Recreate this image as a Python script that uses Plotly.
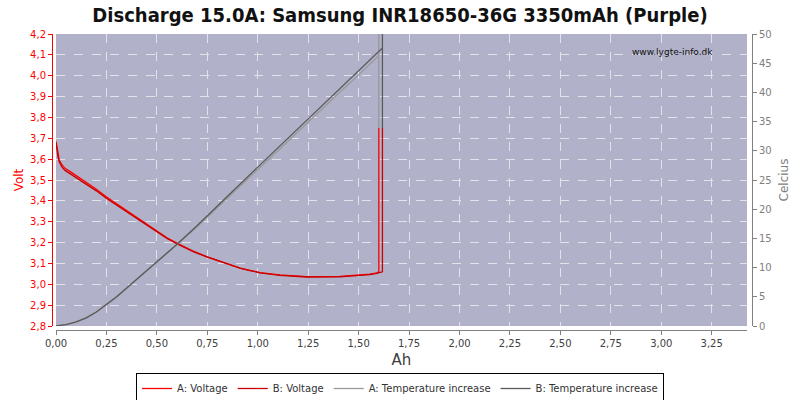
import plotly.graph_objects as go

# ---- data ----
ah_va = [0.0, 0.005, 0.01, 0.016, 0.03, 0.045, 0.08, 0.135, 0.2, 0.251, 0.3, 0.383, 0.45, 0.5,
         0.55, 0.606, 0.68, 0.747, 0.846, 0.912, 0.961, 1.011, 1.11, 1.242, 1.407, 1.49, 1.556,
         1.59, 1.600, 1.600]
volt_a = [3.685, 3.65, 3.62, 3.596, 3.572, 3.556, 3.534, 3.499, 3.456, 3.418, 3.386, 3.329,
          3.286, 3.254, 3.223, 3.194, 3.159, 3.133, 3.098, 3.078, 3.067, 3.056, 3.045, 3.037,
          3.038, 3.044, 3.049, 3.055, 3.06, 3.75]
ah_vb = [0.0, 0.005, 0.01, 0.016, 0.03, 0.045, 0.08, 0.135, 0.2, 0.251, 0.3, 0.383, 0.45, 0.5,
         0.55, 0.606, 0.68, 0.747, 0.846, 0.912, 0.961, 1.011, 1.11, 1.242, 1.407, 1.49, 1.556,
         1.59, 1.618, 1.618]
volt_b = [3.68, 3.64, 3.61, 3.588, 3.562, 3.546, 3.524, 3.49, 3.448, 3.411, 3.38, 3.324,
          3.282, 3.25, 3.22, 3.191, 3.157, 3.131, 3.097, 3.077, 3.066, 3.055, 3.043, 3.035,
          3.036, 3.041, 3.046, 3.052, 3.06, 3.75]

ah_t = [0.0, 0.05, 0.1, 0.15, 0.2, 0.25, 0.3, 0.4, 0.5, 0.6, 0.7, 0.8, 0.9, 1.0, 1.1, 1.2,
        1.3, 1.4, 1.5]
temp_a = [0.0, 0.25, 0.7, 1.4, 2.4, 3.6, 4.9, 7.9, 10.9, 13.9, 17.0, 20.3, 23.6, 26.8, 30.0,
          33.3, 36.6, 39.8, 43.0]
temp_b = [0.0, 0.25, 0.7, 1.4, 2.4, 3.7, 5.0, 8.0, 11.0, 14.0, 17.2, 20.6, 23.9, 27.2, 30.5,
          33.9, 37.2, 40.5, 43.8]
ah_t_end_a = [1.600, 1.600, 1.600]
temp_end_a = [46.3, 52.0, 33.9]
ah_t_end_b = [1.618, 1.618, 1.618]
temp_end_b = [47.6, 52.0, 33.9]

x_ticks = [0, 0.25, 0.5, 0.75, 1.0, 1.25, 1.5, 1.75, 2.0, 2.25, 2.5, 2.75, 3.0, 3.25]
v_range = [2.8, 4.2]
t_range = [0, 50]
x_range = [0, 3.425]

title = "Discharge 15.0A: Samsung INR18650-36G 3350mAh (Purple)"

# ---- figure ----
W, H = 800, 400
L, R, T, B = 56, 747, 34, 326
off = 4
font = "DejaVu Sans, Verdana, sans-serif"

fig = go.Figure()
fig.add_trace(go.Scatter(x=ah_va, y=volt_a, name="A: Voltage", mode="lines",
                         line=dict(color="#FF0000", width=1.3), xaxis="x", yaxis="y"))
fig.add_trace(go.Scatter(x=ah_vb, y=volt_b, name="B: Voltage", mode="lines",
                         line=dict(color="#C80000", width=1.3), xaxis="x", yaxis="y"))
fig.add_trace(go.Scatter(x=ah_t + ah_t_end_a, y=temp_a + temp_end_a, name="A: Temperature increase",
                         mode="lines", line=dict(color="#999999", width=1.3), xaxis="x", yaxis="y2"))
fig.add_trace(go.Scatter(x=ah_t + ah_t_end_b, y=temp_b + temp_end_b, name="B: Temperature increase",
                         mode="lines", line=dict(color="#5A5A5A", width=1.3), xaxis="x", yaxis="y2"))

mt, mb = T, H - B - off
paper_h = H - mt - mb
ydom = [off / paper_h, 1]
xdom = [L / W, R / W]

fig.update_layout(
    width=W, height=H, autosize=False,
    margin=dict(l=0, r=0, t=mt, b=mb, pad=0, autoexpand=False),
    paper_bgcolor="white",
    plot_bgcolor="#B1B1C9",
    separators=",.",
    font=dict(family=font, size=10, color="#404040"),
    title=dict(text="<b>" + title + "</b>", x=0.5, xanchor="center", y=1 - 15 / H, yanchor="middle",
               font=dict(family="Liberation Sans Narrow, DejaVu Sans Condensed, Arial Narrow, sans-serif",
                         size=20, color="#111111")),
    showlegend=True,
    legend=dict(orientation="h", x=0.5, xanchor="center", y=(paper_h - (373 - mt)) / paper_h,
                yanchor="top", bgcolor="white", bordercolor="#000000", borderwidth=1,
                font=dict(family=font, size=10, color="#333333"), itemwidth=30,
                tracegroupgap=0),
    xaxis=dict(domain=xdom, range=x_range, anchor="free", position=0, automargin=False,
               tickvals=x_ticks, tickformat=".2f",
               showline=True, linecolor="#808080", linewidth=1,
               ticks="outside", ticklen=4, tickcolor="#808080",
               showgrid=True, gridcolor="#E2E2EA", griddash="dash", gridwidth=1,
               zeroline=False, tickfont=dict(size=10, color="#404040"),
               title=dict(text="Ah", font=dict(size=15, color="#404040"), standoff=6)),
    yaxis=dict(domain=ydom, range=v_range, anchor="free", position=(L - off) / W, automargin=False,
               dtick=0.1, tickformat=".1f",
               showline=True, linecolor="#FF0000", linewidth=1,
               ticks="outside", ticklen=4, tickcolor="#FF0000",
               showgrid=True, gridcolor="#E2E2EA", griddash="dash", gridwidth=1,
               zeroline=False, tickfont=dict(size=10, color="#FF0000"),
               title=dict(text="Volt", font=dict(size=12, color="#FF0000"), standoff=2)),
    yaxis2=dict(domain=ydom, range=t_range, anchor="free", position=(R + off + 1) / W, automargin=False,
                overlaying="y", side="right", dtick=5,
                showline=True, linecolor="#808080", linewidth=1,
                ticks="outside", ticklen=4, tickcolor="#808080",
                showgrid=False, zeroline=False, tickfont=dict(size=10, color="#808080"),
                title=dict(text="Celcius", font=dict(size=12, color="#808080"), standoff=8)),
    xaxis3=dict(domain=xdom, range=x_range, overlaying="x", anchor="y3", showline=True, mirror=True,
                automargin=False, linecolor="#606060", linewidth=1, showticklabels=False,
                showgrid=False, zeroline=False, ticks=""),
    yaxis3=dict(domain=ydom, range=v_range, overlaying="y", anchor="x3", showline=True, mirror=True,
                automargin=False, linecolor="#606060", linewidth=1, showticklabels=False,
                showgrid=False, zeroline=False, ticks=""),
    annotations=[dict(text="www.lygte-info.dk", xref="paper", yref="paper",
                      x=(672 - L) / (R - L) * (xdom[1] - xdom[0]) + xdom[0], y=(B - 52 + off) / paper_h,
                      xanchor="center", yanchor="middle", showarrow=False,
                      font=dict(family=font, size=9, color="#111111"))],
)

fig.write_html("out.html", config={"displayModeBar": False},
               post_script="document.body.style.margin='0';document.body.style.overflow='hidden';")
